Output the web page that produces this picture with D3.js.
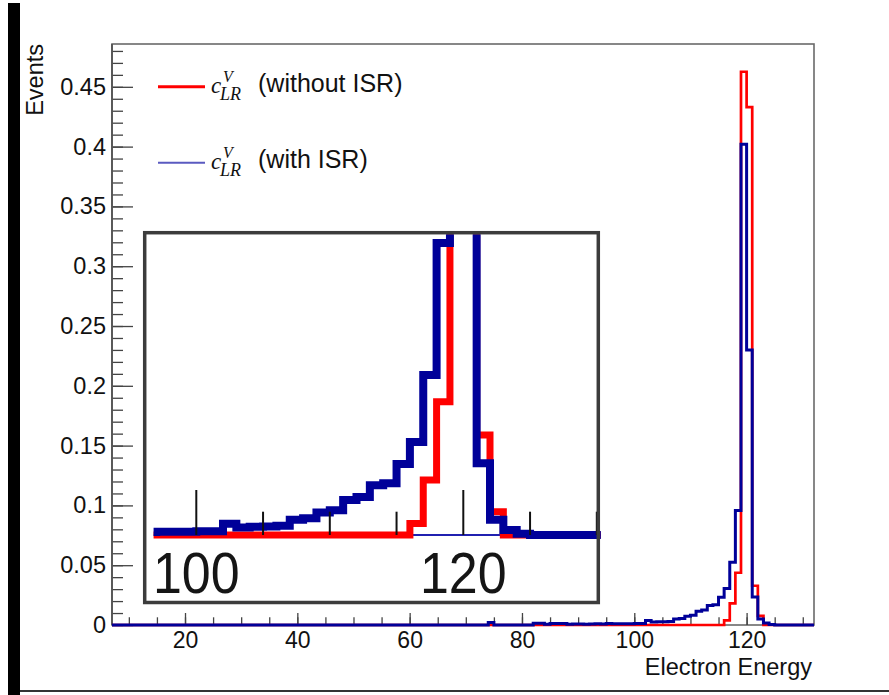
<!DOCTYPE html>
<html>
<head>
<meta charset="utf-8">
<script src="https://cdn.jsdelivr.net/npm/d3@7"></script>
<style>
  body { margin: 0; background: #fff; }
  svg { display: block; font-family: "Liberation Sans", Arial, sans-serif; }
</style>
</head>
<body>
<div id="chart-area"></div>
<script>
// histogram bins: lower edge of each 1-unit bin; bins not listed are empty
const binLow = [73, 74, 75, 76, 77, 78, 79, 80, 81, 82, 83, 84, 85, 86, 87, 88, 89,
    90, 91, 92, 93, 94, 95, 96, 97, 98, 99, 100, 101, 102, 103, 104, 105, 106, 107,
    108, 109, 110, 111, 112, 113, 114, 115, 116, 117, 118, 119, 120, 121, 122, 123, 124, 125];

const withoutISR = [0, 0, 0, 0, 0, 0, 0, 0, 0, 0, 0, 0, 0, 0, 0, 0, 0,
    0, 0, 0, 0, 0, 0, 0, 0, 0, 0, 0, 0, 0, 0, 0, 0, 0, 0,
    0, 0, 0, 0, 0, 0, 0, 0, 0.0038, 0.018, 0.0437, 0.4626, 0.433, 0.0328, 0.0076, 0, 0, 0];

const withISR = [0, 0.002, 0, 0, 0, 0, 0, 0, 0, 0.0015, 0.0015, 0.0006, 0.0012, 0.0012, 0.0012, 0.0006, 0.0008,
    0.0008, 0.0006, 0.0008, 0.001, 0.0008, 0.0012, 0.001, 0.0011, 0.0011, 0.0011, 0.0012, 0.0012, 0.0037, 0.0025, 0.0027, 0.0028, 0.003, 0.005,
    0.0055, 0.0074, 0.0081, 0.0115, 0.0125, 0.0163, 0.017, 0.0233, 0.0305, 0.0525, 0.0957, 0.402, 0.23, 0.0235, 0.005, 0.0016, 0.0004, 0];

const histRange = [7, 132];
const yMax = 0.4858;
const yTickLabels = [0, 0.05, 0.1, 0.15, 0.2, 0.25, 0.3, 0.35, 0.4, 0.45];
const xTickLabels = [20, 40, 60, 80, 100, 120];
const insetRange = [96.8, 130.3];
const insetMajor = [100, 120];
const insetMinor = [105, 110, 115, 125, 130];
const legendLabels = ["(without ISR)", "(with ISR)"];

const W = 889, H = 695;
const svg = d3.select("#chart-area").append("svg")
    .attr("width", W)
    .attr("height", H);

// screenshot border bits
svg.append("rect").attr("x", 8).attr("y", 3).attr("width", 12).attr("height", H - 3).attr("fill", "#000");
svg.append("line").attr("x1", 20).attr("x2", W).attr("y1", 691).attr("y2", 691)
    .attr("stroke", "#333").attr("stroke-width", 2);

const x = d3.scaleLinear().domain(histRange).range([112, 814]);
const y = d3.scaleLinear().domain([0, yMax]).range([625, 44]);

// frame
svg.append("rect")
    .attr("x", 112).attr("y", 44).attr("width", 702).attr("height", 581)
    .attr("fill", "none").attr("stroke", "#6a6a6a").attr("stroke-width", 1.6);

const fontSize = 23.5;

// y axis (ticks pointing into the pad)
const yMinor = svg.append("g").attr("transform", "translate(112,0)")
    .call(d3.axisLeft(y).tickValues(d3.range(0, 0.485, 0.01)).tickSize(-11).tickSizeOuter(0).tickFormat(""));
const yMajor = svg.append("g").attr("transform", "translate(112,0)")
    .call(d3.axisLeft(y).tickValues(yTickLabels).tickSize(-21).tickSizeOuter(0).tickPadding(6).tickFormat(d => String(d)));

// x axis
const xMinor = svg.append("g").attr("transform", "translate(0,625)")
    .call(d3.axisBottom(x).tickValues(d3.range(10, 132, 5)).tickSize(-7.7).tickSizeOuter(0).tickFormat(""));
const xMajor = svg.append("g").attr("transform", "translate(0,625)")
    .call(d3.axisBottom(x).tickValues(xTickLabels).tickSize(-12).tickSizeOuter(0).tickPadding(7).tickFormat(d => String(d)));

[yMinor, yMajor, xMinor, xMajor].forEach(g => {
    g.select(".domain").remove();
    g.selectAll(".tick line").attr("stroke", "#444").attr("stroke-width", 1.3);
    g.selectAll(".tick text").attr("fill", "#111").style("font-size", fontSize + "px")
        .style("font-family", '"Liberation Sans", Arial, sans-serif');
});
xMajor.selectAll(".tick text").style("font-size", "23px");

// left axis line
svg.append("line").attr("x1", 112).attr("x2", 112).attr("y1", 44).attr("y2", 625)
    .attr("stroke", "#555").attr("stroke-width", 1.8);

// axis titles
svg.append("text")
    .attr("transform", "translate(43,44) rotate(-90)")
    .attr("text-anchor", "end")
    .style("font-size", fontSize + "px")
    .attr("fill", "#111")
    .text("Events");

svg.append("text")
    .attr("x", 812).attr("y", 675)
    .attr("text-anchor", "end")
    .style("font-size", "23.5px")
    .attr("fill", "#111")
    .text("Electron Energy");

// histogram outline from bins
function histPoints(vals) {
    const pts = [[histRange[0], 0]];
    binLow.forEach((b, i) => pts.push([b, vals[i]]));
    pts.push([binLow[binLow.length - 1] + 1, 0]);
    pts.push([histRange[1], 0]);
    return pts;
}

const mainLine = d3.line()
    .x(d => x(d[0]))
    .y(d => y(d[1]))
    .curve(d3.curveStepAfter);

svg.append("path")
    .attr("d", mainLine(histPoints(withoutISR)))
    .attr("fill", "none").attr("stroke", "#ff0000").attr("stroke-width", 2.7)
    .attr("stroke-linejoin", "miter");

svg.append("path")
    .attr("d", mainLine(histPoints(withISR)))
    .attr("fill", "none").attr("stroke", "#000099").attr("stroke-width", 3)
    .attr("stroke-linejoin", "miter");

// legend
const legendRows = [
    { line: 86.7, base: 93, color: "#ff0000", width: 3 },
    { line: 162.7, base: 169, color: "#5a5ac0", width: 2 }
];
legendRows.forEach((r, i) => {
    const g = svg.append("g");
    g.append("line").attr("x1", 158).attr("x2", 205).attr("y1", r.line).attr("y2", r.line)
        .attr("stroke", r.color).attr("stroke-width", r.width);
    const serif = '"Liberation Serif", "Times New Roman", serif';
    g.append("text").attr("x", 211).attr("y", r.base)
        .style("font-family", serif).style("font-style", "italic").style("font-size", "23px")
        .attr("fill", "#111").text("c");
    g.append("text").attr("x", 223).attr("y", r.base - 11)
        .style("font-family", serif).style("font-style", "italic").style("font-size", "16px")
        .attr("fill", "#111").text("V");
    g.append("text").attr("x", 220).attr("y", r.base + 7)
        .style("font-family", serif).style("font-style", "italic").style("font-size", "18px")
        .attr("fill", "#111").text("LR");
    g.append("text").attr("x", 258).attr("y", r.base - 1)
        .style("font-size", "25px").attr("fill", "#111")
        .text(legendLabels[i]);
});

// inset: magnified view of the peak region
const ix = d3.scaleLinear().domain([100, 120]).range([196.3, 463.3]);
const iy = d3.scaleLinear().domain([0, 0.1]).range([535, 230]);
const box = { x: 144.7, y: 232.7, w: 453.6, h: 369.8 };

const inset = svg.append("g");
inset.append("rect").attr("x", box.x).attr("y", box.y).attr("width", box.w).attr("height", box.h)
    .attr("fill", "#fff");

svg.append("clipPath").attr("id", "inset-clip")
    .append("rect")
    .attr("x", ix(insetRange[0])).attr("y", box.y + 1.5)
    .attr("width", ix(insetRange[1]) - ix(insetRange[0])).attr("height", box.h - 3);

const insetPlot = inset.append("g").attr("clip-path", "url(#inset-clip)");

const insetLine = d3.line()
    .x(d => ix(d[0]))
    .y(d => iy(d[1]))
    .curve(d3.curveStepAfter);

insetPlot.append("line")
    .attr("x1", ix(insetRange[0])).attr("x2", ix(insetRange[1]))
    .attr("y1", iy(0)).attr("y2", iy(0))
    .attr("stroke", "#2020b0").attr("stroke-width", 2);

insetPlot.append("path")
    .attr("d", insetLine(histPoints(withoutISR)))
    .attr("fill", "none").attr("stroke", "#ff0000").attr("stroke-width", 7)
    .attr("stroke-linejoin", "miter");

insetPlot.append("path")
    .attr("d", insetLine(histPoints(withISR)))
    .attr("fill", "none").attr("stroke", "#000099").attr("stroke-width", 8)
    .attr("stroke-linejoin", "miter");

inset.selectAll(".imajor").data(insetMajor).join("line")
    .attr("class", "imajor")
    .attr("x1", d => ix(d)).attr("x2", d => ix(d))
    .attr("y1", 490).attr("y2", iy(0))
    .attr("stroke", "#111").attr("stroke-width", 2);

inset.selectAll(".iminor").data(insetMinor).join("line")
    .attr("class", "iminor")
    .attr("x1", d => ix(d)).attr("x2", d => ix(d))
    .attr("y1", 511.7).attr("y2", iy(0))
    .attr("stroke", "#111").attr("stroke-width", 2);

inset.selectAll(".ilabel").data(insetMajor).join("text")
    .attr("class", "ilabel")
    .attr("transform", d => `translate(${ix(d)},593) scale(1,1.12)`)
    .attr("text-anchor", "middle")
    .style("font-size", "52px")
    .attr("fill", "#151515")
    .text(d => d);

inset.append("rect").attr("x", box.x).attr("y", box.y).attr("width", box.w).attr("height", box.h)
    .attr("fill", "none").attr("stroke", "#3c3c3c").attr("stroke-width", 3.5);
</script>
</body>
</html>
